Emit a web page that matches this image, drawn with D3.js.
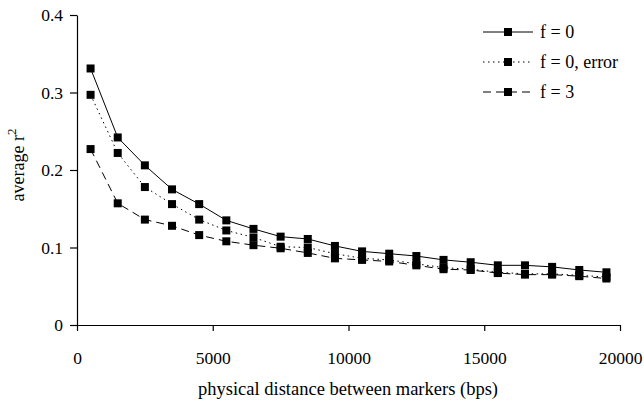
<!doctype html>
<meta charset="utf-8">
<style>
body { margin: 0; background: #fff; }
svg text { font-family: "Liberation Serif", "Times New Roman", serif; fill: #000; }
</style>
<script src="https://d3js.org/d3.v7.min.js"></script>
<body>
<svg id="chart"></svg>
<script>
// distance between markers (bps)
var distances = [500, 1500, 2500, 3500, 4500, 5500, 6500, 7500, 8500, 9500,
                 10500, 11500, 12500, 13500, 14500, 15500, 16500, 17500, 18500, 19500];
var f0 = [0.331, 0.242, 0.206, 0.175, 0.156, 0.135, 0.124, 0.114, 0.111, 0.102,
          0.095, 0.092, 0.089, 0.084, 0.081, 0.077, 0.077, 0.075, 0.071, 0.068];
var f0err = [0.297, 0.222, 0.178, 0.156, 0.136, 0.122, 0.113, 0.101, 0.100, 0.092,
             0.086, 0.084, 0.079, 0.074, 0.072, 0.068, 0.066, 0.066, 0.064, 0.062];
var f3 = [0.227, 0.157, 0.136, 0.128, 0.116, 0.108, 0.103, 0.099, 0.093, 0.086,
          0.084, 0.082, 0.077, 0.072, 0.071, 0.067, 0.065, 0.065, 0.063, 0.060];
var seriesNames = ["f = 0", "f = 0, error", "f = 3"];
var xTicks = [0, 5000, 10000, 15000, 20000];
var yTicks = [0, 0.1, 0.2, 0.3, 0.4];

var width = 644, height = 406;
var svg = d3.select("#chart").attr("width", width).attr("height", height);

var x = d3.scaleLinear().domain([0, 20000]).range([77, 620]);
var y = d3.scaleLinear().domain([0, 0.4]).range([325, 15]);

// axes
svg.append("g")
    .attr("transform", "translate(77,0)")
    .call(d3.axisLeft(y).tickValues(yTicks).tickSize(7).tickSizeOuter(0).tickPadding(7)
          .tickFormat(function(d){ return d === 0 ? "0" : d3.format(".1f")(d); }));
svg.append("g")
    .attr("transform", "translate(0,325)")
    .call(d3.axisBottom(x).tickValues(xTicks).tickSize(6).tickSizeOuter(0).tickPadding(21)
          .tickFormat(d3.format("d")));
svg.selectAll(".tick text").style("font-size", "17.5px").style("font-family", "Liberation Serif");
svg.selectAll(".domain, .tick line").attr("stroke", "#000").attr("stroke-width", 1.2);

// axis titles
svg.append("text")
    .attr("x", 348).attr("y", 395)
    .attr("text-anchor", "middle")
    .style("font-size", "18.5px")
    .text("physical distance between markers (bps)");

var ylab = svg.append("text")
    .attr("transform", "translate(24,165) rotate(-90)")
    .attr("text-anchor", "middle")
    .style("font-size", "18px");
ylab.append("tspan").text("average r");
ylab.append("tspan").attr("dy", -8).style("font-size", "13px").text("2");

var series = [
  { name: seriesNames[0], values: f0, dash: null },
  { name: seriesNames[1], values: f0err, dash: "1.5,3.5" },
  { name: seriesNames[2], values: f3, dash: "8,5" }
];

var line = d3.line()
    .x(function(d, i){ return x(distances[i]); })
    .y(function(d){ return y(d); });

var msize = 8;
series.forEach(function(s){
  svg.append("path")
    .attr("d", line(s.values))
    .attr("fill", "none")
    .attr("stroke", "#000")
    .attr("stroke-width", 1)
    .attr("stroke-dasharray", s.dash);
  svg.append("g").selectAll("rect")
    .data(s.values)
    .enter().append("rect")
      .attr("x", function(d, i){ return x(distances[i]) - msize/2; })
      .attr("y", function(d){ return y(d) - msize/2; })
      .attr("width", msize).attr("height", msize)
      .attr("fill", "#000");
});

// legend
var legend = svg.append("g").attr("transform", "translate(483,32)");
series.forEach(function(s, i){
  var row = legend.append("g").attr("transform", "translate(0," + (i * 30) + ")");
  row.append("line")
    .attr("x1", 0).attr("x2", 50).attr("y1", 0).attr("y2", 0)
    .attr("stroke", "#000").attr("stroke-width", 1)
    .attr("stroke-dasharray", s.dash);
  row.append("rect")
    .attr("x", 25 - msize/2).attr("y", -msize/2)
    .attr("width", msize).attr("height", msize).attr("fill", "#000");
  row.append("text")
    .attr("x", 57).attr("y", 6)
    .style("font-size", "18px")
    .text(s.name);
});
</script>
</body>
